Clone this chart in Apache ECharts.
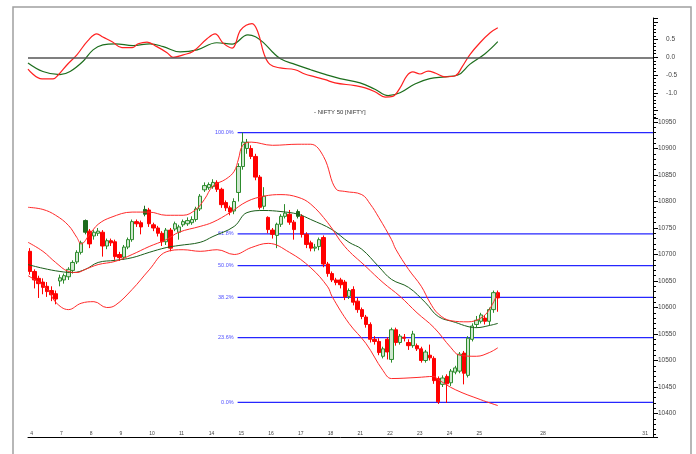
<!DOCTYPE html>
<html>
<head>
<meta charset="utf-8">
<script src="https://cdn.jsdelivr.net/npm/echarts@6/dist/echarts.min.js"></script>
<style>
  html, body { margin: 0; padding: 0; background: #fff; }
  #chart { width: 696px; height: 454px; }
</style>
</head>
<body>
<div id="chart"></div>
<script>
// hourly bars, 7 per session (last session 6)
const opens = [10706,10668,10655,10648,10640,10632,10626, 10650,10652,10658,10670,10686,10704,10742,
  10744,10735,10740,10742,10716,10726,10724, 10700,10695,10714,10728,10762,10760,10776,
  10784,10756,10750,10740,10724,10746,10748, 10742,10756,10758,10760,10766,10786,10822,
  10826,10828,10836,10823,10798,10788,10782, 10817,10866,10900,10900,10885,10846,10791,
  10770,10746,10736,10757,10772,10776,10761, 10772,10772,10738,10722,10712,10715,10732,
  10682,10664,10652,10652,10648,10621,10634, 10612,10596,10582,10568,10540,10536,10508,
  10540,10502,10558,10534,10544,10534,10528, 10528,10522,10500,10510,10504,10466,10455,
  10470,10458,10478,10480,10514,10472,10540, 10568,10574,10580,10574,10596,10628]
const closes = [10668,10652,10645,10638,10630,10624,10616, 10656,10660,10672,10685,10704,10722,10764,
  10720,10742,10744,10716,10726,10722,10696, 10694,10714,10728,10762,10758,10752,10785,
  10758,10750,10740,10724,10746,10712,10758, 10752,10762,10764,10766,10786,10810,10830,
  10832,10836,10823,10794,10788,10780,10800, 10866,10912,10912,10885,10846,10789,10810,
  10747,10738,10757,10772,10778,10761,10747, 10781,10738,10719,10712,10714,10728,10682,
  10664,10652,10647,10643,10620,10632,10610, 10596,10583,10568,10540,10536,10515,10522,
  10516,10558,10534,10546,10542,10528,10550, 10522,10500,10516,10505,10462,10422,10467,
  10456,10480,10486,10512,10476,10542,10565, 10576,10586,10574,10596,10628,10618]
const lows = [10662,10636,10618,10625,10620,10612,10606, 10640,10645,10652,10664,10682,10700,10738,
  10712,10728,10735,10696,10710,10716,10690, 10688,10690,10710,10724,10752,10738,10772,
  10752,10744,10734,10716,10718,10706,10744, 10728,10752,10754,10756,10762,10782,10818,
  10822,10824,10818,10788,10782,10774,10776, 10800,10860,10890,10880,10840,10785,10785,
  10740,10730,10712,10752,10768,10756,10728, 10768,10732,10712,10706,10706,10708,10676,
  10658,10648,10642,10636,10614,10616,10604, 10590,10578,10562,10534,10530,10510,10504,
  10502,10496,10528,10530,10536,10520,10524, 10518,10496,10496,10500,10456,10418,10450,
  10420,10452,10474,10476,10455,10468,10536, 10562,10570,10568,10566,10590,10592]
const highs = [10712,10672,10660,10655,10648,10640,10632, 10662,10664,10676,10689,10708,10726,10766,
  10748,10746,10750,10746,10730,10730,10728, 10705,10718,10732,10766,10766,10764,10792,
  10788,10760,10754,10744,10750,10750,10762, 10756,10766,10770,10772,10790,10814,10836,
  10836,10842,10840,10826,10802,10792,10806, 10872,10930,10918,10906,10890,10850,10827,
  10772,10750,10760,10776,10795,10784,10765, 10785,10776,10742,10726,10720,10732,10736,
  10686,10668,10656,10656,10652,10636,10640, 10618,10600,10586,10572,10546,10542,10526,
  10544,10562,10562,10550,10550,10540,10556, 10532,10526,10520,10530,10508,10470,10472,
  10474,10484,10490,10516,10518,10546,10570, 10584,10590,10586,10600,10632,10632]
const darkBars = [13, 27, 63]

// x axis: bar index of each date label, plus empty future space
const totalBars = 147
const dateIndex = [0, 7, 14, 21, 28, 35, 42, 49, 56, 63, 70, 77, 84, 91, 98, 105, 120, 144]
const dateText = ['4', '7', '8', '9', '10', '11', '14', '15', '16', '17', '18', '21', '22', '23', '24', '25', '28', '31']

// bands, [bar index, value]
const upperBand = [[-0.5,10789],[3,10785],[6,10774],[9,10755],[11,10732],[12,10720],[14,10738],[16,10757],
  [19,10770],[24,10780],[28,10780],[32,10774],[36,10774],[39,10785],[41,10804],[43,10829],[46,10842],
  [48,10857],[49,10880],[50,10906],[52,10912],[57,10906],[63,10908],[66,10908],[69,10885],[72,10823],
  [74,10819],[78,10813],[80,10795],[82,10770],[85,10728],[86,10710],[89,10672],[92,10640],[94,10610],
  [96,10588],[99,10575],[103,10573],[106,10580],[108,10596],[110,10628]]
const innerBand = [[-0.5,10723],[3,10706],[6,10685],[9,10668],[11,10666],[13,10672],[16,10681],[20,10687],
  [24,10700],[28,10715],[32,10728],[35,10742],[40,10753],[43,10761],[47,10779],[51,10800],[55,10810],
  [59,10813],[63,10808],[66,10795],[70,10760],[74,10715],[79,10677],[83,10647],[87,10621],[91,10590],
  [95,10562],[99,10524],[101,10510],[105,10508],[108,10515],[110,10524]]
const midBand = [[-0.5,10681],[3,10674],[7,10668],[10,10666],[13,10672],[16,10685],[20,10689],[24,10694],
  [28,10704],[32,10713],[35,10717],[40,10723],[43,10734],[48,10753],[51,10779],[55,10783],[59,10781],
  [63,10776],[66,10766],[71,10747],[75,10723],[78,10710],[82,10677],[85,10653],[89,10638],[93,10609],
  [96,10583],[100,10572],[103,10564],[105,10562],[108,10566],[110,10570]]
const lowerBand = [[-0.5,10660],[4,10635],[6,10610],[9,10596],[12,10608],[15,10611],[18,10600],[20,10604],
  [24,10634],[28,10671],[32,10705],[36,10709],[40,10706],[44,10709],[48,10700],[52,10713],[56,10721],
  [61,10704],[66,10675],[70,10639],[71,10621],[75,10570],[79,10532],[83,10481],[85,10466],[91,10468],
  [95,10470],[96,10464],[100,10445],[106,10426],[110,10415]]

// upper panel oscillator, [bar index, value]
const oscFast = [[-0.5,-0.33],[2.8,-0.61],[5.4,-0.61],[6.6,-0.5],[8.7,-0.21],[11,0.07],[13.6,0.47],[15.7,0.66],
  [17.1,0.57],[19.3,0.44],[21.6,0.27],[24,0.27],[25.4,0.38],[27.5,0.43],[29.8,0.3],[32.2,0.13],[33.6,0.0],
  [36,0.07],[38.3,0.16],[41.6,0.52],[43.5,0.66],[45.4,0.4],[47.5,0.26],[49.4,0.75],[50.8,0.9],[52.2,0.95],
  [53.6,0.7],[55,0.1],[56.4,-0.2],[58.8,-0.3],[62.3,-0.35],[64.6,-0.47],[67,-0.55],[69.4,-0.63],[71.7,-0.72],
  [76.4,-0.8],[78.8,-0.86],[81.1,-0.97],[83.5,-1.12],[85.3,-1.1],[87,-0.86],[88.6,-0.52],[90,-0.41],
  [91.7,-0.47],[93.6,-0.39],[95.4,-0.45],[97.6,-0.55],[100,-0.52],[101.6,-0.27],[103.4,0.07],[105.8,0.41],
  [108.2,0.69],[110,0.83]]
const oscSlow = [[-0.5,-0.16],[3,-0.4],[7,-0.49],[9.4,-0.4],[12.4,-0.12],[14.8,0.21],[17.1,0.35],[20,0.38],
  [24.2,0.33],[28.2,0.38],[31.3,0.3],[35.3,0.15],[39.3,0.21],[43.9,0.41],[47.5,0.37],[51.2,0.63],[53,0.58],
  [55,0.4],[57,0.15],[59,-0.05],[62.3,-0.2],[66,-0.35],[69.4,-0.48],[72.9,-0.6],[77.6,-0.72],[81.1,-0.9],
  [84.2,-1.08],[87,-1.0],[90.5,-0.75],[94,-0.6],[97.6,-0.55],[100.6,-0.5],[103.4,-0.2],[107,0.1],[110,0.44]]

// retracement levels
const fibLevels = [10930, 10739, 10679, 10619, 10543, 10421]
const fibLabels = ['100.0%', '61.8%', '50.0%', '38.2%', '23.6%', '0.0%']
const fibStart = 48.8

const categories = []
for (let i = 0; i < totalBars; i++) {
  const k = dateIndex.indexOf(i)
  categories.push(k >= 0 ? dateText[k] : '')
}

const candles = opens.map((o, i) => {
  const v = [o, closes[i], lows[i], highs[i]]
  if (darkBars.includes(i)) {
    return { value: v, itemStyle: { color: '#1c6b1c', borderColor: '#1c6b1c' } }
  }
  return v
})

const font = 'Liberation Sans'
const tinyLabel = { fontFamily: font, color: '#444' }

// one flat line series per retracement level, label on its left end
const fibSeries = fibLevels.map((v, i) => ({
  type: 'line', xAxisIndex: 3, yAxisIndex: 1,
  symbol: 'circle', symbolSize: 0.01, showSymbol: true,
  color: '#2626ff',
  lineStyle: { color: '#2626ff', width: 1.2, type: 'solid' },
  itemStyle: { color: '#2626ff' },
  label: { show: false },
  silent: true, z: 1,
  data: [
    {
      value: [fibStart, v],
      label: { show: true, position: 'left', distance: 4, formatter: fibLabels[i], fontSize: 5.5, color: '#5050ff', fontFamily: font }
    },
    [totalBars - 0.5, v]
  ]
}))

const chart = echarts.init(document.getElementById('chart'))
chart.setOption({
  animation: false,
  backgroundColor: '#fff',
  textStyle: { fontFamily: font },
  title: {
    text: '- NIFTY 50 [NIFTY]',
    left: 309, top: 104,
    textStyle: { fontSize: 6, fontWeight: 'normal', color: '#333', fontFamily: font }
  },
  graphic: [{
    type: 'rect',
    shape: { x: 13, y: 7, width: 678, height: 470 },
    style: { fill: 'none', stroke: '#a0a0a0', lineWidth: 1.5 },
    silent: true
  }],
  grid: [
    { left: 28, right: 43, top: 18, height: 100 },
    { left: 28, right: 43, top: 118, bottom: 17 }
  ],
  xAxis: [
    { type: 'value', gridIndex: 0, min: -0.5, max: totalBars - 0.5, show: false },
    {
      type: 'category', gridIndex: 1, data: categories, boundaryGap: true, position: 'bottom',
      axisLine: { onZero: false, lineStyle: { color: '#000', width: 1 } },
      axisTick: { inside: true, interval: 0, length: 2, lineStyle: { color: '#000' } },
      axisLabel: {
        ...tinyLabel, fontSize: 5, inside: true, align: 'left', verticalAlign: 'bottom', margin: 1,
        showMinLabel: true, interval: (i) => dateIndex.includes(i)
      },
      splitLine: { show: false }
    },
    {
      type: 'category', gridIndex: 1, data: categories, boundaryGap: true, position: 'bottom',
      axisLine: { show: false, onZero: false },
      axisTick: { inside: true, length: 4, interval: (i) => dateIndex.includes(i), lineStyle: { color: '#000' } },
      axisLabel: { show: false },
      splitLine: { show: false }
    },
    { type: 'value', gridIndex: 1, min: -0.5, max: totalBars - 0.5, show: false }
  ],
  yAxis: [
    {
      type: 'value', gridIndex: 0, position: 'right', min: -1.71, max: 1.107,
      minInterval: 0.5, maxInterval: 0.5,
      axisLine: { show: true, onZero: false, lineStyle: { color: '#000' } },
      axisTick: { show: true, length: 5, lineStyle: { color: '#000' } },
      minorTick: { show: true, splitNumber: 5, length: 3, lineStyle: { color: '#000' } },
      axisLabel: {
        ...tinyLabel, fontSize: 6.5, margin: 13,
        formatter: (v) => (v > 0.75 || v < -1.25) ? '' : v.toFixed(1)
      },
      splitLine: { show: false }
    },
    {
      type: 'value', gridIndex: 1, position: 'right', min: 10355.7, max: 10957.5,
      minInterval: 50, maxInterval: 50,
      axisLine: { show: true, onZero: false, lineStyle: { color: '#000' } },
      axisTick: { show: true, length: 5, lineStyle: { color: '#000' } },
      minorTick: { show: true, splitNumber: 5, length: 3, lineStyle: { color: '#000' } },
      axisLabel: {
        ...tinyLabel, fontSize: 6.5, margin: 5, showMinLabel: false, showMaxLabel: false,
        formatter: (v) => (v % 50 === 0 ? String(v) : '')
      },
      splitLine: { show: false }
    }
  ],
  series: [
    {
      type: 'line', xAxisIndex: 0, yAxisIndex: 0, data: oscSlow, symbol: 'none', smooth: 0.4,
      lineStyle: { color: '#1d6e1d', width: 1.2 },
      markLine: {
        silent: true, symbol: 'none', label: { show: false },
        lineStyle: { color: '#555', width: 1.5, type: 'solid' },
        data: [{ yAxis: 0 }]
      }
    },
    {
      type: 'line', xAxisIndex: 0, yAxisIndex: 0, data: oscFast, symbol: 'none', smooth: 0.4,
      lineStyle: { color: '#ff2020', width: 1.2 }
    },
    ...fibSeries,
    {
      type: 'line', xAxisIndex: 3, yAxisIndex: 1, data: midBand, symbol: 'none', smooth: 0.4,
      lineStyle: { color: '#1a5e1a', width: 1 }
    },
    {
      type: 'line', xAxisIndex: 3, yAxisIndex: 1, data: upperBand, symbol: 'none', smooth: 0.4,
      lineStyle: { color: '#ff2a2a', width: 1 }
    },
    {
      type: 'line', xAxisIndex: 3, yAxisIndex: 1, data: innerBand, symbol: 'none', smooth: 0.4,
      lineStyle: { color: '#ff2a2a', width: 1 }
    },
    {
      type: 'line', xAxisIndex: 3, yAxisIndex: 1, data: lowerBand, symbol: 'none', smooth: 0.4,
      lineStyle: { color: '#ff2a2a', width: 1 }
    },
    {
      type: 'candlestick', xAxisIndex: 1, yAxisIndex: 1, data: candles, barWidth: 3.8,
      itemStyle: {
        color: '#cfe7cf', color0: '#ff0000',
        borderColor: '#2d8b2d', borderColor0: '#ff0000', borderWidth: 1
      }
    }
  ]
})
</script>
</body>
</html>
